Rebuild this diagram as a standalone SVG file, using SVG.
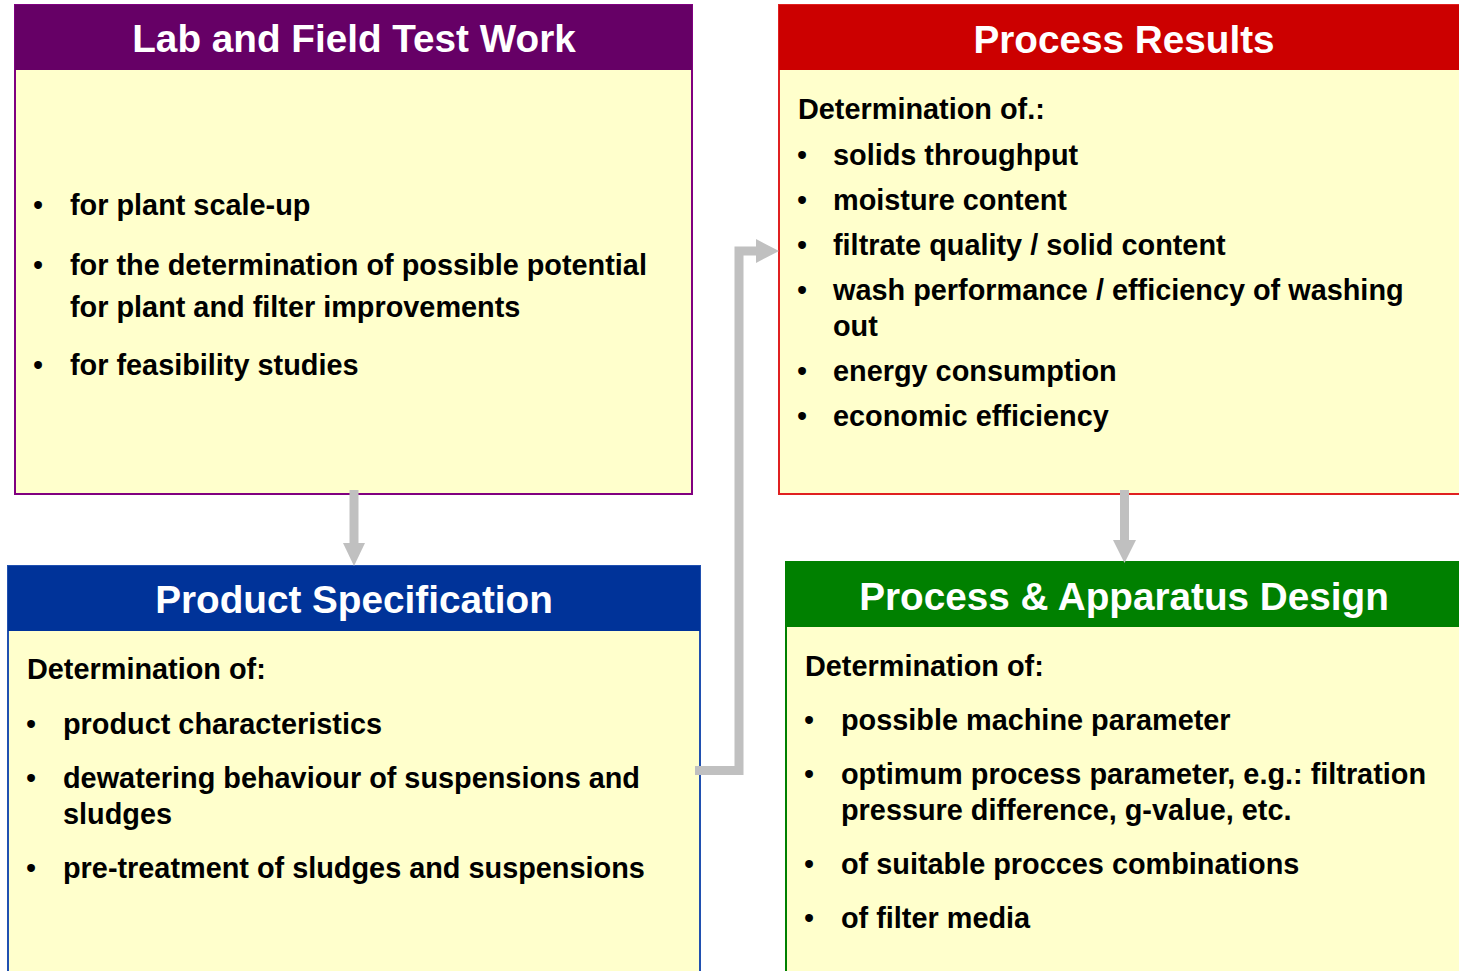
<svg xmlns="http://www.w3.org/2000/svg" width="1459" height="971" viewBox="0 0 1459 971">
<style>
.body{fill:#FFFFCC;stroke-width:2}
.hd{font-family:"Liberation Sans",Arial,sans-serif;font-weight:bold;font-size:38.7px;fill:#FFFFFF;text-anchor:middle}
.t{font-family:"Liberation Sans",Arial,sans-serif;font-weight:bold;font-size:28.85px;fill:#000000}
.b{font-family:"Liberation Sans",Arial,sans-serif;font-size:28.85px;fill:#000000}
.conn{fill:none;stroke:#C0C0C0;stroke-width:9}
.head{fill:#C0C0C0}
</style>
<rect width="1459" height="971" fill="#FFFFFF"/>
<g id="lab">
<rect class="body" x="15" y="5" width="677" height="489" stroke="#800080"/>
<rect x="15" y="5" width="677" height="65" fill="#660066"/>
<text class="hd" x="354" y="52">Lab and Field Test Work</text>
<text class="b" x="33" y="215">•</text><text class="t" x="70" y="215">for plant scale-up</text>
<text class="b" x="33" y="275">•</text><text class="t" x="70" y="275">for the determination of possible potential</text>
<text class="t" x="70" y="317">for plant and filter improvements</text>
<text class="b" x="33" y="375">•</text><text class="t" x="70" y="375">for feasibility studies</text>
</g>
<g id="results">
<rect class="body" x="779" y="5" width="690" height="489" stroke="#E02020"/>
<rect x="779" y="5" width="690" height="65" fill="#CC0000"/>
<text class="hd" x="1124" y="53">Process Results</text>
<text class="t" x="798" y="119">Determination of.:</text>
<text class="b" x="797" y="165">•</text><text class="t" x="833" y="165">solids throughput</text>
<text class="b" x="797" y="210">•</text><text class="t" x="833" y="210">moisture content</text>
<text class="b" x="797" y="255">•</text><text class="t" x="833" y="255">filtrate quality / solid content</text>
<text class="b" x="797" y="300">•</text><text class="t" x="833" y="300">wash performance / efficiency of washing</text>
<text class="t" x="833" y="336">out</text>
<text class="b" x="797" y="381">•</text><text class="t" x="833" y="381">energy consumption</text>
<text class="b" x="797" y="426">•</text><text class="t" x="833" y="426">economic efficiency</text>
</g>
<g id="product">
<rect class="body" x="8" y="566" width="692" height="420" stroke="#2050B0"/>
<rect x="8" y="566" width="692" height="65" fill="#003399"/>
<text class="hd" x="354" y="613">Product Specification</text>
<text class="t" x="27" y="679">Determination of:</text>
<text class="b" x="26" y="734">•</text><text class="t" x="63" y="734">product characteristics</text>
<text class="b" x="26" y="788">•</text><text class="t" x="63" y="788">dewatering behaviour of suspensions and</text>
<text class="t" x="63" y="824">sludges</text>
<text class="b" x="26" y="878">•</text><text class="t" x="63" y="878">pre-treatment of sludges and suspensions</text>
</g>
<g id="design">
<rect class="body" x="786" y="562" width="680" height="424" stroke="#008000"/>
<rect x="786" y="562" width="680" height="65" fill="#008000"/>
<text class="hd" x="1124" y="610">Process &amp; Apparatus Design</text>
<text class="t" x="805" y="676">Determination of:</text>
<text class="b" x="804" y="730">•</text><text class="t" x="841" y="730">possible machine parameter</text>
<text class="b" x="804" y="784">•</text><text class="t" x="841" y="784">optimum process parameter, e.g.: filtration</text>
<text class="t" x="841" y="820">pressure difference, g-value, etc.</text>
<text class="b" x="804" y="874">•</text><text class="t" x="841" y="874">of suitable procces combinations</text>
<text class="b" x="804" y="928">•</text><text class="t" x="841" y="928">of filter media</text>
</g>
<g id="connectors">
<line class="conn" x1="354" y1="490" x2="354" y2="545"/>
<polygon class="head" points="343,543 365,543 354,566"/>
<line class="conn" x1="1124.5" y1="490" x2="1124.5" y2="542"/>
<polygon class="head" points="1113,540 1136,540 1124.5,563"/>
<polyline class="conn" points="695,770.5 739,770.5 739,251 758,251"/>
<polygon class="head" points="756,239 756,263 779,251"/>
</g>
</svg>
